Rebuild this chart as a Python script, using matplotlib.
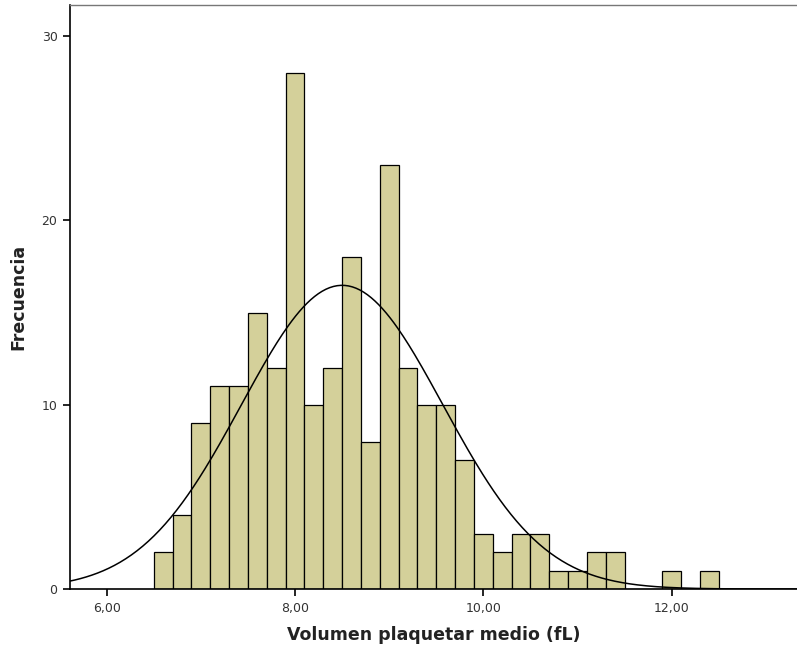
import numpy as np
from matplotlib import pyplot as plt

# Histogram bins (left edges) and counts
bin_edges = [6.5, 6.7, 6.9, 7.1, 7.3, 7.5, 7.7, 7.9, 8.1, 8.3, 8.5, 8.7, 8.9, 9.1, 9.3,
             9.5, 9.7, 9.9, 10.1, 10.3, 10.5, 10.7, 10.9, 11.1, 11.3, 11.5, 11.7, 11.9,
             12.1, 12.3, 12.5]
counts = [2, 4, 9, 11, 11, 15, 12, 28, 10, 12, 18, 8, 23, 12, 10,
          10, 7, 3, 2, 3, 3, 1, 1, 2, 2, 0, 0, 1, 0, 1]
bin_width = 0.2

# Normal curve parameters
mean_vpm = 8.50
sd_vpm = 1.07

x_ticks = [6, 8, 10, 12]
x_ticklabels = ['6,00', '8,00', '10,00', '12,00']
y_ticks = [0, 10, 20, 30]

fig = plt.figure(figsize=(7.97, 6.52), dpi=100)
ax = fig.add_axes([0.0878, 0.0966, 0.9122, 0.8954])

## Bars:
ax.bar(bin_edges[:-1], counts, width=bin_width, align='edge',
       facecolor='#d4d09a', edgecolor='black', linewidth=0.9)

## Normal curve:
n_total = sum(counts)
xs = np.linspace(5.5, 13.5, 400)
ys = n_total * bin_width / (sd_vpm * np.sqrt(2 * np.pi)) * np.exp(-0.5 * ((xs - mean_vpm) / sd_vpm) ** 2)
ax.plot(xs, ys, color='black', lw=1.1)

## Limits, ticks, labels:
ax.set_xlim(5.61, 13.33)
ax.set_ylim(0, 31.68)
ax.set_xticks(x_ticks)
ax.set_xticklabels(x_ticklabels)
ax.set_yticks(y_ticks)
ax.tick_params(axis='both', direction='out', length=5, width=1.2, labelsize=9,
               labelcolor='#333333', pad=4)
ax.spines['right'].set_visible(False)
for side in ['left', 'bottom']:
    ax.spines[side].set_linewidth(1.2)
ax.spines['top'].set_linewidth(1.0)
ax.spines['top'].set_color('#777777')

ax.set_xlabel('Volumen plaquetar medio (fL)', fontsize=12.5, weight='bold',
              color='#222222', labelpad=8)
ax.set_ylabel('Frecuencia', fontsize=12.5, weight='bold', color='#222222', labelpad=10)

plt.savefig('out.png', dpi=100)
plt.close(fig)
